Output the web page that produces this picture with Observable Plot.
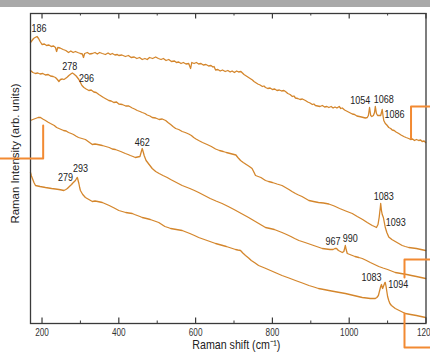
<!DOCTYPE html>
<html><head><meta charset="utf-8">
<script src="https://cdn.jsdelivr.net/npm/d3@7"></script>
<script src="https://cdn.jsdelivr.net/npm/@observablehq/plot@0.6"></script>
<style>
html,body{margin:0;padding:0;background:#fff;width:430px;height:358px;overflow:hidden;position:relative}
#bar{position:absolute;left:0;top:0;width:430px;height:7px;background:#a9a9a9}
#chart{position:absolute;left:0;top:0}
</style></head><body>
<div id="chart"></div><div id="bar"></div>
<script>
// Raman shift (cm^-1), intensity (arb. units)
const spectrumA = [[170,281],[174,283],[178,285],[182,286],[187,287],[191,285],[195,282],[200,279],[206,279.5],[212,278],[218,278.5],[224,277],[230,277.5],[235,276],[238,272],[241,276],[247,275.5],[255,274],[262,273],[269,271],[275,272.5],[281,271],[287,272],[293,271],[300,270],[305,269.5],[308,266],[311,270],[318,271],[324,269.5],[331,270],[338,271],[344,269.5],[350,271],[357,270],[365,269],[372,270.5],[378,269],[383,270],[390,268.5],[396,269],[400,268],[408,268.5],[417,267],[425,268],[432,266],[440,266.5],[447,265],[454,266],[461,264],[468,265],[474,264],[480,266],[488,265],[496,266.5],[503,265],[510,264],[516,265],[523,263],[530,264],[537,262],[545,262.5],[550,261],[556,261.5],[562,260],[568,261],[575,259.5],[582,260],[587,255],[590,261],[596,260],[602,261],[608,259.5],[614,260],[620,258.5],[627,259],[634,257.5],[640,258],[645,256.5],[648,257],[652,253.5],[658,254],[664,252.5],[670,253.5],[677,252],[684,253],[690,251.5],[695,252.5],[701,251],[707,252.5],[712,251.5],[718,252],[722,250.5],[726,249],[730,248],[736,246.5],[742,245],[748,243.5],[752,242],[756,241],[762,239.5],[768,238.5],[774,237],[778,237.5],[782,236],[788,235],[794,235.5],[800,234],[806,234.5],[812,233],[818,233.5],[824,232.5],[830,233],[834,232],[840,230],[846,229],[852,227],[856,227.5],[860,225.5],[866,225],[872,224],[878,224.5],[886,223],[892,221.5],[898,220.5],[904,219],[908,219.5],[912,218],[918,217.5],[924,217],[930,218],[936,216.5],[942,217],[947,216],[953,217],[958,215.5],[963,216.5],[968,215.5],[974,217],[978,215],[982,215.5],[988,213.5],[993,212.5],[998,211.5],[1003,210.5],[1008,209.5],[1014,209],[1020,207.5],[1026,207],[1032,206.5],[1037,206],[1042,205.5],[1047,206],[1050,208],[1053,216],[1056,208],[1059,207],[1063,208],[1066,211],[1068,217],[1071,210],[1074,208],[1078,208],[1082,208],[1084,211],[1086,214],[1088,208],[1090,203],[1094,200],[1098,198.5],[1103,196],[1108,195],[1112,193.5],[1117,193],[1122,191.5],[1129,190],[1135,188.5],[1142,187],[1148,186],[1155,185],[1160,184],[1165,184.5],[1170,183],[1175,184],[1181,183],[1186,183.5],[1190,182],[1195,182.5],[1199,181]];
const spectrumB = [[170,253],[176,251],[183,250],[189,250.5],[195,249.5],[202,250],[209,248.5],[216,249],[222,247.5],[229,247],[235,246],[240,244],[244,242],[248,244],[253,244.5],[257,244],[261,245],[266,246.5],[270,248],[275,249.5],[279,250.5],[283,249.5],[286,248.5],[289,247.5],[292,246],[296,244],[300,241],[304,238],[309,236],[315,234.5],[322,233],[328,233.5],[335,231.5],[341,231],[348,229],[354,227.5],[360,226],[367,224.5],[374,223],[380,222.5],[387,221],[394,221.5],[400,219.5],[409,219],[418,217.5],[426,217.5],[435,215.5],[441,214.5],[448,213],[455,212],[461,211],[468,210],[474,208.5],[481,207.5],[487,206],[496,205.5],[505,204],[513,204.5],[522,203],[528,201],[535,199],[541,197],[548,195],[556,194],[565,192],[573,191],[582,189.5],[589,188],[595,186],[601,184.5],[608,183],[618,181],[630,179],[641,177],[652,174.5],[662,173],[672,172],[680,171],[690,170],[700,169],[705,168.5],[710,166],[717,163],[724,161],[732,159],[740,157],[747,155],[751,152],[756,148],[763,147],[770,146],[776,144.5],[782,143],[790,142],[800,141],[812,139.5],[825,138],[834,136],[843,134],[851,132],[860,130],[868,128.5],[877,127],[886,125],[895,123],[907,122],[920,121],[933,120.5],[947,119.5],[961,117.5],[975,115],[991,112.5],[1008,110],[1021,107],[1035,104],[1047,101],[1060,98],[1066,97],[1071,96],[1075,99],[1078,106],[1081,116],[1082,120],[1084,113],[1086,109],[1089,106],[1091,102],[1094,96],[1098,91],[1103,86.5],[1111,84],[1120,82],[1129,80],[1138,78],[1146,77],[1155,76],[1165,75.5],[1175,75],[1187,74],[1199,73]];
const spectrumC = [[170,203],[176,204],[183,205],[190,206],[196,206],[202,204.5],[209,203],[215,201.5],[222,200],[227,199],[232,198],[238,196],[244,195],[250,194],[256,193],[263,192.5],[269,191],[276,190],[282,189],[288,187.5],[295,186],[304,185],[313,184],[322,181.5],[331,179],[338,179.5],[345,179],[351,178.5],[357,178],[366,177],[375,176],[383,174.5],[391,174],[398,173],[405,172],[411,171],[417,170],[424,169],[430,168],[437,167],[443,166],[449,166.5],[455,167],[458,171],[461,175],[464,171],[466,168],[469,165],[471,163],[479,159],[487,155],[496,152],[505,150],[515,148],[526,146],[535,144],[545,142],[555,140],[565,138],[575,136.5],[585,135],[597,133],[608,131],[623,128],[638,125],[653,122.5],[669,120],[685,117],[700,114],[719,110],[738,106],[749,103.5],[760,101],[771,98.5],[782,96],[794,95],[805,94],[815,92.5],[825,91],[837,89],[848,87],[858,85],[869,83],[885,81],[900,79],[915,77],[930,75],[940,74.5],[950,74],[958,74],[963,75],[967,75],[972,73],[977,72],[982,71],[986,72],[988,75],[990,78],[992,74],[995,70],[1005,68.5],[1015,67],[1025,66],[1034,65],[1045,63],[1055,61],[1066,59],[1077,57],[1088,55.5],[1100,54],[1110,52.5],[1120,51],[1135,50],[1150,49],[1162,48],[1175,47],[1187,46],[1199,45]];
const spectrumD = [[170,151],[172,148],[175,145],[179,141],[183,138],[189,137.5],[195,137],[202,136.5],[209,136],[217,135.5],[225,135],[235,134.5],[244,134],[251,133.5],[257,133],[262,134],[266,135],[270,136.5],[274,138],[277,139],[279,140],[283,141.5],[287,143],[290,145],[292,146],[294,143],[296,140],[298,136],[300,133],[306,129],[313,126],[322,124],[331,122],[338,122.5],[345,122],[351,121.5],[357,121],[366,119.5],[375,118],[388,115.5],[400,113],[409,112],[418,111],[426,110.5],[435,110],[441,109],[448,108],[455,107],[461,106],[472,105],[482,104],[493,102.5],[504,101],[512,99],[520,97],[528,96],[535,95],[550,94],[565,93],[575,91.5],[585,90],[597,88],[608,86],[619,84.5],[630,83],[641,81.5],[652,80],[666,78.5],[680,77],[692,75.5],[704,74],[710,73.5],[717,73],[723,70.5],[730,68],[738,65.5],[745,63],[755,60.5],[764,58],[780,55.5],[795,53],[810,50.5],[825,48],[843,45.5],[860,43],[878,40.5],[895,38],[908,36.5],[920,35],[934,34],[947,33],[968,31.5],[990,30],[1012,28],[1034,26],[1045,25.5],[1055,25],[1062,25],[1068,25],[1072,26],[1076,28],[1078,31],[1080,34],[1082,37],[1084,39],[1086,36],[1087,35],[1089,37],[1091,39],[1093,41],[1094,41],[1096,37],[1098,32],[1100,27],[1103,23],[1106,20],[1110,18],[1115,16.5],[1120,15],[1133,12.5],[1146,10],[1160,9],[1175,8],[1187,7],[1199,6]];
const spectra = [spectrumA, spectrumB, spectrumC, spectrumD];

// peak annotations: text, Raman shift, intensity
const peakText = ["186","278","296","462","279","293","1054","1068","1086","1083","1093","967","990","1083","1094"];
const peakX    = [192,272,316,461,261,300,1029,1090,1118,1090,1121,958,1003,1058,1128];
const peakY    = [295,257,245,181,146,155,223,224,209,127,101,82,85,46,39];

const xMajorTicks = [200,400,600,800,1000,1200];
const xMinorTicks = [300,500,700,900,1100];

// callout leader lines (orange brackets) in data units
const calloutLeft  = [[203,198],[203,165],[92,165]];
const calloutTop   = [[1161,185],[1161,217],[1215,217]];
const calloutMid   = [[1144,46],[1144,64],[1215,64]];
const calloutLow   = [[1144,10],[1144,-24],[1215,-24]];

const peaks = peakText.map((t,i)=>({t, x:peakX[i], y:peakY[i]}));
const lineColor = "#d4862c";
const calloutColor = "#f28a32";
const font = "'Liberation Sans',Arial,sans-serif";

const chart = Plot.plot({
  width:430, height:358,
  marginTop:13, marginBottom:35, marginLeft:30, marginRight:4.5,
  x:{domain:[170,1200]},
  y:{domain:[0,310], axis:null},
  style:{fontFamily:font, background:"transparent", overflow:"visible"},
  marks:[
    ...spectra.map(s => Plot.line(s, {x:d=>d[0], y:d=>d[1], stroke:lineColor, strokeWidth:1.3})),
    Plot.frame({stroke:"#3a3a3a", strokeWidth:1.3}),
    Plot.ruleX(xMajorTicks, {y1:0, y2:5.5, stroke:"#3a3a3a", strokeWidth:1.2}),
    Plot.ruleX(xMajorTicks, {y1:304.5, y2:310, stroke:"#3a3a3a", strokeWidth:1.2}),
    Plot.ruleX(xMinorTicks, {y1:0, y2:2.5, stroke:"#3a3a3a", strokeWidth:1}),
    Plot.ruleX(xMinorTicks, {y1:307.5, y2:310, stroke:"#3a3a3a", strokeWidth:1}),
    Plot.axisX({ticks:xMajorTicks, tickFormat:d=>String(d), tickSize:0, tickPadding:5, fontSize:10, label:null, fill:"#333"}),
    Plot.text(peaks, {x:"x", y:"y", text:"t", fontSize:11, fill:"#222"}),
    Plot.text(["Raman shift (cm⁻¹)"], {frameAnchor:"bottom", dx:8, dy:25, fontSize:13, fill:"#222"}),
    Plot.text(["Raman Intensity (arb. units)"], {frameAnchor:"left", textAnchor:"middle", dx:-15.5, dy:-15, rotate:-90, fontSize:11.4, fill:"#222", className:"ylab"}),
    ...[calloutLeft, calloutTop, calloutMid, calloutLow].map(c => Plot.line(c, {x:d=>d[0], y:d=>d[1], stroke:calloutColor, strokeWidth:2, clip:false}))
  ]
});
document.getElementById("chart").appendChild(chart);
// the source picture is horizontally condensed: narrow the horizontal texts
chart.querySelectorAll("text").forEach(t => {
  if (t.closest(".ylab")) return;
  const len = t.getComputedTextLength();
  if (len > 0) {
    t.setAttribute("textLength", (len * 0.82).toFixed(2));
    t.setAttribute("lengthAdjust", "spacingAndGlyphs");
  }
});
</script></body></html>
